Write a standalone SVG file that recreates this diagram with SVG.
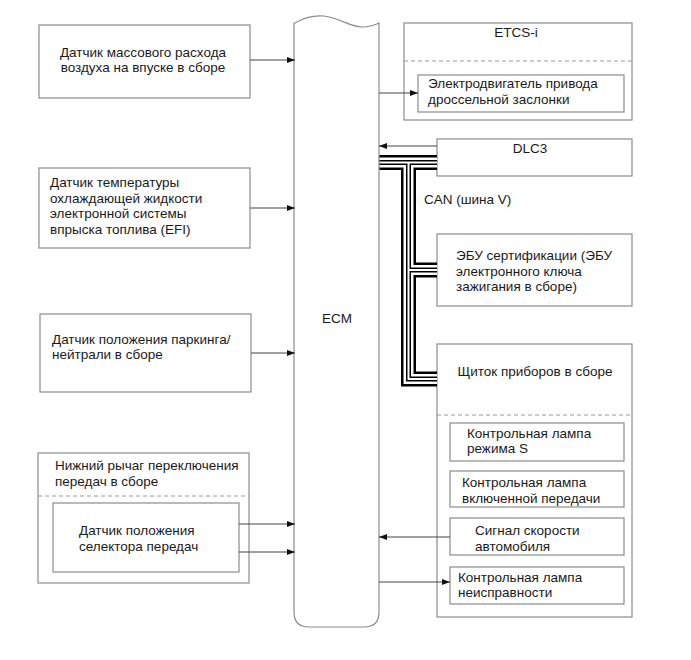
<svg xmlns="http://www.w3.org/2000/svg" width="691" height="660" viewBox="0 0 691 660">
<style>
text{font-family:"Liberation Sans",Arial,sans-serif;font-size:13.5px;fill:#1a1a1a}
.box{fill:#fff;stroke:#8c8c8c;stroke-width:1.2}
.dash{stroke:#9a9a9a;stroke-width:1;stroke-dasharray:4 3;fill:none}
.w{fill:none;stroke:#444;stroke-width:1}
.c{text-anchor:middle}
</style>
<defs>
<marker id="ah" viewBox="0 0 8 6" refX="8" refY="3" markerWidth="8" markerHeight="6" markerUnits="userSpaceOnUse" orient="auto">
<path d="M0,0 L8,3 L0,6 Z" fill="#111"/>
</marker>
</defs>
<rect width="691" height="660" fill="#fff"/>

<g id="ecm">
<path class="box" d="M295,23 C305,17 314,15 324,16 C340,18 350,27 362,27 C370,27 375,25 379,23 V612 Q379,627 364,627 H309 Q294,627 294,612 V23 Z"/>
<text class="c" x="337" y="323">ECM</text>
</g>

<g id="maf">
<rect class="box" x="39" y="25" width="211" height="73"/>
<text class="c" x="143" y="57">Датчик массового расхода</text>
<text class="c" x="143" y="72">воздуха на впуске в сборе</text>
</g>

<g id="ect">
<rect class="box" x="39" y="168" width="211" height="80"/>
<text x="50" y="187">Датчик температуры</text>
<text x="50" y="202.5">охлаждающей жидкости</text>
<text x="50" y="218">электронной системы</text>
<text x="50" y="233.5">впрыска топлива (EFI)</text>
</g>

<g id="pnp">
<rect class="box" x="40" y="314" width="211" height="78"/>
<text x="52" y="344">Датчик положения паркинга/</text>
<text x="52" y="359">нейтрали в сборе</text>
</g>

<g id="shift">
<rect class="box" x="38" y="453" width="211" height="130"/>
<text x="55" y="470">Нижний рычаг переключения</text>
<text x="55" y="486">передач в сборе</text>
<line class="dash" x1="38" y1="496" x2="249" y2="496"/>
<g id="selector">
<rect class="box" x="53" y="503" width="186" height="69"/>
<text x="79" y="535">Датчик положения</text>
<text x="79" y="551">селектора передач</text>
</g>
</g>

<g id="etcs">
<rect class="box" x="404" y="23" width="228" height="97"/>
<text class="c" x="516" y="37">ETCS-i</text>
<line class="dash" x1="404" y1="61" x2="632" y2="61"/>
<g id="throttle">
<rect class="box" x="418" y="75" width="206" height="37"/>
<text x="428" y="88">Электродвигатель привода</text>
<text x="428" y="104">дроссельной заслонки</text>
</g>
</g>

<g id="dlc3">
<rect class="box" x="437" y="139" width="195" height="37"/>
<text class="c" x="530" y="153">DLC3</text>
</g>

<g id="cert">
<rect class="box" x="437" y="234" width="195" height="72"/>
<text x="456" y="260">ЭБУ сертификации (ЭБУ</text>
<text x="456" y="276">электронного ключа</text>
<text x="456" y="291">зажигания в сборе)</text>
</g>

<g id="meter">
<rect class="box" x="437" y="344" width="195" height="273"/>
<text class="c" x="535" y="376">Щиток приборов в сборе</text>
<line class="dash" x1="437" y1="415" x2="632" y2="415"/>
<g id="lampS">
<rect class="box" x="450" y="423" width="174" height="38"/>
<text x="467" y="438">Контрольная лампа</text>
<text x="467" y="453">режима S</text>
</g>
<g id="lampGear">
<rect class="box" x="450" y="471" width="174" height="36"/>
<text x="462" y="487">Контрольная лампа</text>
<text x="462" y="503">включенной передачи</text>
</g>
<g id="speed">
<rect class="box" x="450" y="518" width="174" height="37"/>
<text x="475" y="535">Сигнал скорости</text>
<text x="475" y="551">автомобиля</text>
</g>
<g id="mil">
<rect class="box" x="450" y="567" width="174" height="37"/>
<text x="458" y="582">Контрольная лампа</text>
<text x="458" y="597">неисправности</text>
</g>
</g>

<text x="424" y="204">CAN (шина V)</text>

<g id="connectors">
<g class="w" marker-end="url(#ah)">
<path d="M250,60 H295"/>
<path d="M250,208 H295"/>
<path d="M251,353 H295"/>
<path d="M239,524 H295"/>
<path d="M239,552 H295"/>
<path d="M379,93 H418"/>
<path d="M437,146 H379"/>
<path d="M450,537 H379"/>
<path d="M379,582 H450"/>
</g>
<g id="can-bus" fill="none" stroke-linejoin="miter">
<g stroke="#000" stroke-width="15">
<path d="M379.5,162.5 H437"/><path d="M408.5,162.5 V379 H437"/><path d="M408.5,270 H437"/>
</g>
<g stroke="#fff" stroke-width="10">
<path d="M379.5,162.5 H437"/><path d="M408.5,162.5 V379 H437"/><path d="M408.5,270 H437"/>
</g>
<g stroke="#000" stroke-width="5">
<path d="M379.5,162.5 H437"/><path d="M408.5,162.5 V379 H437"/><path d="M408.5,270 H437"/>
</g>
<g stroke="#fff" stroke-width="2">
<path d="M379.5,162.5 H437"/><path d="M408.5,162.5 V379 H437"/><path d="M408.5,270 H437"/>
</g>
</g>
</g>
</svg>
